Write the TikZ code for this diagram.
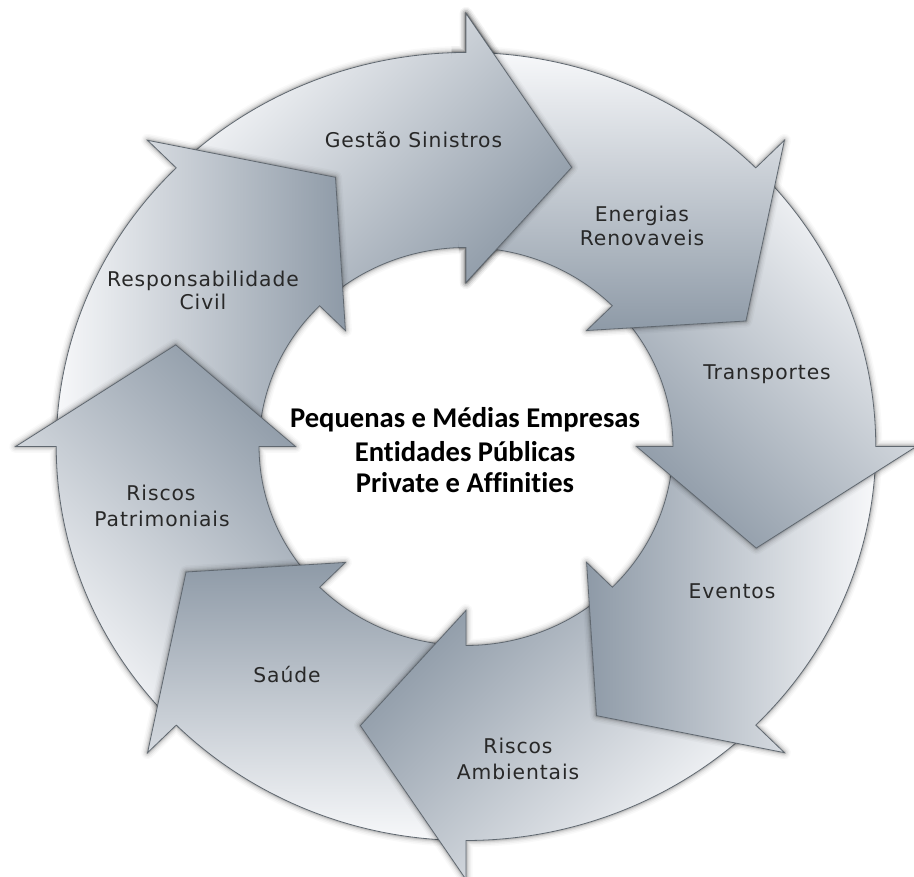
\documentclass[tikz,border=0pt]{standalone}
\usepackage{fontspec}
\setmainfont{DejaVu Sans}
\newfontfamily\labelfont[LetterSpace=4.5]{DejaVu Sans}
\newfontfamily\centerfont[Ligatures=NoCommon]{Carlito}
\definecolor{arrlight}{RGB}{247,248,250}
\definecolor{arrdark}{RGB}{142,154,167}
\definecolor{arredge}{RGB}{96,104,112}
\definecolor{labeltext}{RGB}{40,40,40}
\tikzset{
  arrowpath/.style={insert path={(#1:199pt) arc[start angle=#1, end angle=#1+42, radius=199pt]
      -- (#1+42:394pt) arc[start angle=#1+42, end angle=#1, radius=394pt]
      -- (#1:433pt) -- (#1-20:297pt) -- (#1:164pt) -- cycle}},
  lbl/.style={font=\labelfont\fontsize{20.3}{24}\selectfont, text=labeltext, anchor=base, inner sep=0pt},
  ctr/.style={font=\centerfont\bfseries\fontsize{28.6}{34}\selectfont, text=black, anchor=base, inner sep=0pt}
}
\newcommand{\cyclearrow}[1]{%
  \foreach \w/\o in {13/0.025, 10/0.035, 7/0.05, 4.5/0.07, 2.5/0.1}{%
    \draw[line width=\w pt, draw=black, draw opacity=\o, line join=round, arrowpath=#1];}
  \pgfmathsetmacro{\shang}{#1-45}%
  \shade[arrowpath=#1, top color=arrlight, bottom color=arrdark, shading angle=\shang];
  \draw[arrowpath=#1, draw=arredge, line width=0.8pt, line join=miter];
}
\begin{document}
\begin{tikzpicture}[x=1pt, y=1pt]
\useasboundingbox (0,0) rectangle (914,877);
\fill[white] (0,0) rectangle (914,877);
\begin{scope}[shift={(466,430.5)}, xscale=1.04]
  \cyclearrow{90}
  \cyclearrow{135}
  \cyclearrow{180}
  \cyclearrow{-135}
  \cyclearrow{-90}
  \cyclearrow{-45}
  \cyclearrow{0}
  \cyclearrow{45}
  \begin{scope}
    \clip (0,0) -- (60:480pt) arc[start angle=60, end angle=92, radius=480pt] -- cycle;
    \cyclearrow{90}
  \end{scope}
\end{scope}
% labels
\node[lbl] (gs) at (413.5,729) {Gestão Sinistros};
\node[lbl] (er1) at (642,655) {Energias};
\node[lbl] (er2) at (642,631) {Renovaveis};
\node[lbl] (tr) at (767,497) {Transportes};
\node[lbl] (ev) at (732,278) {Eventos};
\node[lbl] (ra1) at (518,123) {Riscos};
\node[lbl] (ra2) at (518,97) {Ambientais};
\node[lbl] (sa) at (287,194) {Saúde};
\node[lbl] (rp1) at (161,376) {Riscos};
\node[lbl] (rp2) at (162,350) {Patrimoniais};
\node[lbl] (rc1) at (203,590) {Responsabilidade};
\node[lbl] (rc2) at (203,567) {Civil};
% centre text
\node[ctr] (c1) at (465,449) {Pequenas e Médias Empresas};
\node[ctr] (c2) at (465,415) {Entidades Públicas};
\node[ctr] (c3) at (465,384) {Private e Affinities};
\end{tikzpicture}
\end{document}
